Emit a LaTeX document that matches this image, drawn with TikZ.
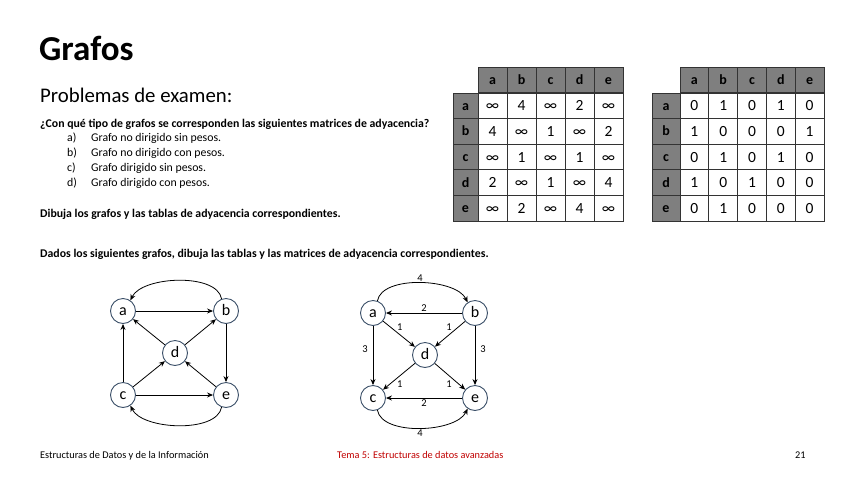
\documentclass[tikz,border=0pt]{standalone}
\usepackage{fontspec}
\setmainfont{Carlito}
\usetikzlibrary{arrows.meta}
\definecolor{hdr}{RGB}{127,127,127}
\definecolor{nodeb}{RGB}{60,80,105}
\definecolor{footred}{RGB}{192,0,0}
\tikzset{
  txt/.style={anchor=base west, inner sep=0pt, font=\fontsize{11.8}{14}\selectfont},
  btxt/.style={txt, font=\fontsize{11.8}{14}\selectfont\bfseries},
  foot/.style={anchor=base west, inner sep=0pt, font=\fontsize{10.3}{12}\selectfont},
  hcell/.style={draw=black!80, fill=hdr, line width=0.8pt, minimum width=29pt, minimum height=25.6pt, inner sep=0pt, text height=9pt, text depth=0pt, font=\fontsize{14}{16}\selectfont\bfseries},
  cell/.style={draw=black!80, fill=white, line width=0.8pt, minimum width=29pt, minimum height=25.6pt, inner sep=0pt, text height=10pt, text depth=0pt, font=\fontsize{15.5}{18}\selectfont},
  vtx/.style={circle, draw=nodeb, fill=white, line width=0.9pt, minimum size=25pt, inner sep=0pt, text height=9pt, text depth=0pt, font=\fontsize{16}{18}\selectfont},
  edge/.style={-{Stealth[length=6pt,width=5pt]}, line width=0.8pt, black},
  wl/.style={font=\fontsize{10.5}{12}\selectfont, inner sep=1pt}
}
\begin{document}
\begin{tikzpicture}[x=1pt,y=-1pt]
\useasboundingbox (0,0) rectangle (848,477);
% titles
\node[anchor=base west, inner sep=0pt, font=\fontsize{35}{40}\selectfont\bfseries] (title) at (39,60) {Grafos};
\node[anchor=base west, inner sep=0pt, font=\fontsize{20.8}{25}\selectfont] (sub) at (40,102) {Problemas de examen:};
\node[btxt] (q) at (40,127) {¿Con qué tipo de grafos se corresponden las siguientes matrices de adyacencia?};
\node[txt] (la) at (67,141) {a)}; \node[txt] (ta) at (91,141) {Grafo no dirigido sin pesos.};
\node[txt] (lb) at (67,156) {b)}; \node[txt] (tb) at (91,156) {Grafo no dirigido con pesos.};
\node[txt] (lc) at (67,171) {c)}; \node[txt] (tc) at (91,171) {Grafo dirigido sin pesos.};
\node[txt] (ld) at (67,186) {d)}; \node[txt] (td) at (91,186) {Grafo dirigido con pesos.};
\node[btxt] (dib) at (40,217) {Dibuja los grafos y las tablas de adyacencia correspondientes.};
\node[btxt] (dad) at (40,257) {Dados los siguientes grafos, dibuja las tablas y las matrices de adyacencia correspondientes.};
% tables
\foreach \l [count=\i] in {a,b,c,d,e}{
  \node[hcell] (t1h\i) at ({478+29*(\i-1)+14.5},80) {\l};
  \node[hcell, minimum width=25pt] (t1r\i) at (465.5,{93+25.6*(\i-1)+12.8}) {\l};
  \node[hcell, minimum width=28.8pt] (t2h\i) at ({680+28.8*(\i-1)+14.4},80) {\l};
  \node[hcell, minimum width=28pt] (t2r\i) at (666,{93+25.6*(\i-1)+12.8}) {\l};
}
\foreach \row [count=\r] in {{∞,4,∞,2,∞},{4,∞,1,∞,2},{∞,1,∞,1,∞},{2,∞,1,∞,4},{∞,2,∞,4,∞}}{
  \foreach \v [count=\c] in \row {
    \node[cell] (t1c\r\c) at ({478+29*(\c-1)+14.5},{93+25.6*(\r-1)+12.8}) {\v};
  }
}
\foreach \row [count=\r] in {{0,1,0,1,0},{1,0,0,0,1},{0,1,0,1,0},{1,0,1,0,0},{0,1,0,0,0}}{
  \foreach \v [count=\c] in \row {
    \node[cell, minimum width=28.8pt] (t2c\r\c) at ({680+28.8*(\c-1)+14.4},{93+25.6*(\r-1)+12.8}) {\v};
  }
}
% graph 1
\node[vtx] (a) at (123,311) {a};
\node[vtx] (b) at (226,311) {b};
\node[vtx] (d) at (175,353) {d};
\node[vtx] (c) at (123,395) {c};
\node[vtx] (e) at (226,395) {e};
\draw[edge] (a) -- (b);
\draw[edge] (b.110) to[out=100,in=65,looseness=0.75] (a.55);
\draw[edge] (d) -- (a);
\draw[edge] (d) -- (b);
\draw[edge] (c) -- (a);
\draw[edge] (c) -- (d);
\draw[edge] (c) -- (e);
\draw[edge] (e) -- (d);
\draw[edge] (b) -- (e);
\draw[edge] (e.-110) to[out=-100,in=-65,looseness=0.75] (c.-55);
% graph 2
\node[vtx] (a2) at (373,313) {a};
\node[vtx] (b2) at (475,313) {b};
\node[vtx] (d2) at (425,355) {d};
\node[vtx] (c2) at (373,398) {c};
\node[vtx] (e2) at (475,398) {e};
\draw[edge] (a2.70) to[out=80,in=115,looseness=0.75] node[wl, above] {4} (b2.125);
\draw[edge] (b2) -- node[wl, above] {2} (a2);
\draw[edge] (a2) -- node[wl, pos=0.4, above right] {1} (d2);
\draw[edge] (b2) -- node[wl, pos=0.4, above left] {1} (d2);
\draw[edge] (a2) -- node[wl, pos=0.4, left=4pt] {3} (c2);
\draw[edge] (b2) -- node[wl, pos=0.4, right=4pt] {3} (e2);
\draw[edge] (d2) -- node[wl, pos=0.6, below right] {1} (c2);
\draw[edge] (d2) -- node[wl, pos=0.6, below left] {1} (e2);
\draw[edge] (e2) -- node[wl, below] {2} (c2);
\draw[edge] (c2.-70) to[out=-80,in=-115,looseness=0.75] node[wl, below] {4} (e2.-125);
% footer
\node[foot] (f1) at (40,458) {Estructuras de Datos y de la Información};
\node[foot, text=footred] (f2) at (337,458) {Tema 5: Estructuras de datos avanzadas};
\node[foot] (f3) at (795,458) {21};
\end{tikzpicture}
\end{document}
